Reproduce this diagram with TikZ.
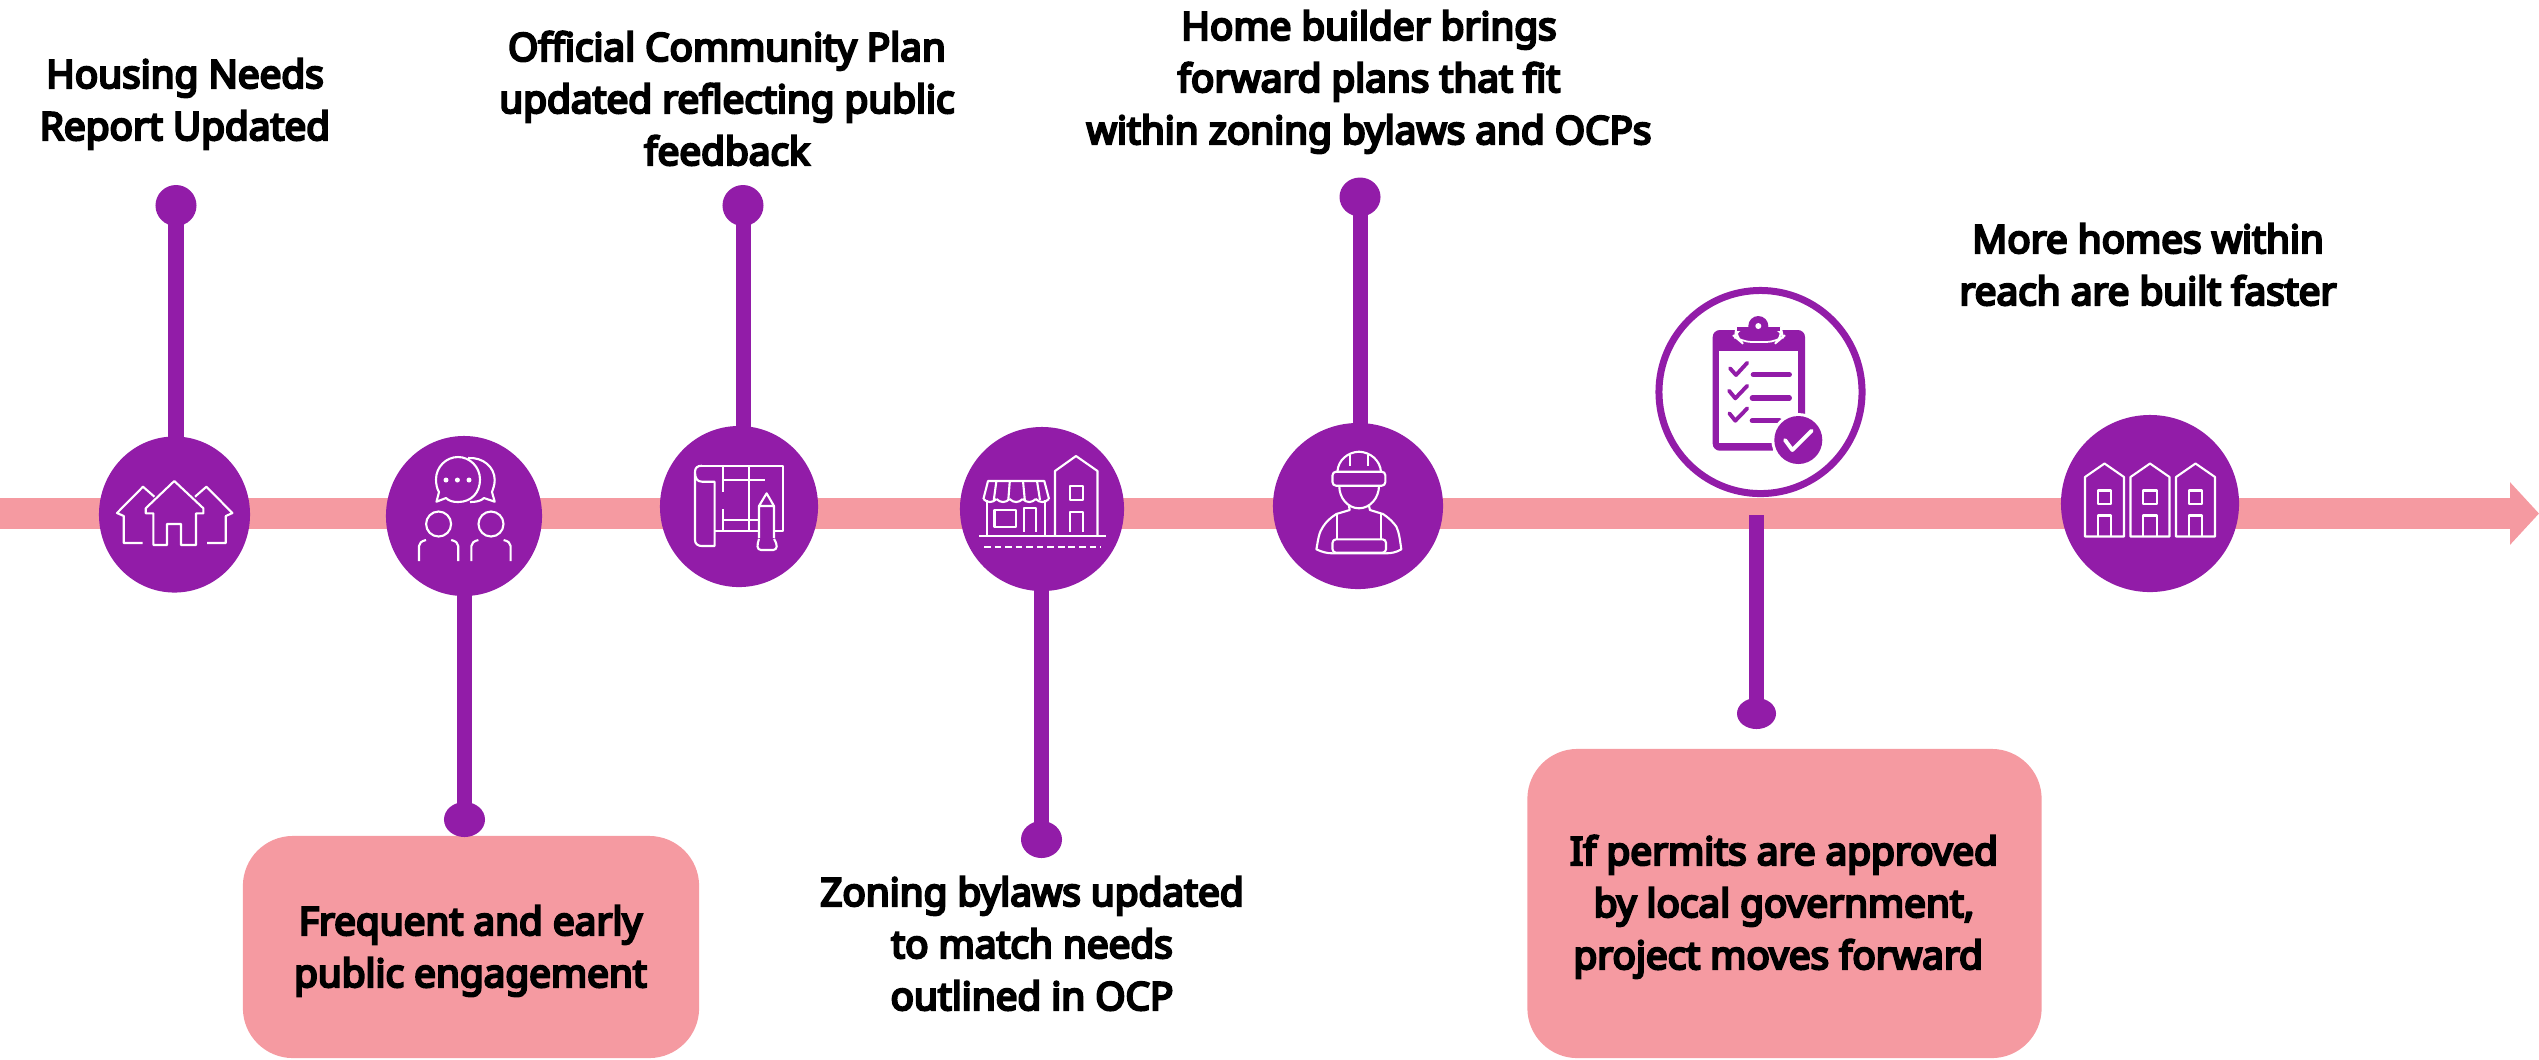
\documentclass[tikz,border=0pt]{standalone}
\usepackage{fontspec}
\setmainfont{Noto Sans}
\newfontfamily\captionfont{Noto Sans}[FakeBold=6]
\usepackage{xcolor}
\usetikzlibrary{arrows.meta,shapes.geometric}
\definecolor{hubpurple}{HTML}{921CA8}
\definecolor{bandpink}{HTML}{F59AA1}
\tikzset{
	band/.style={draw=bandpink, line width=.31cm, -{Triangle[length=.29cm,width=.61cm]}},
	hub/.style={ellipse, fill=hubpurple, inner sep=0pt},
	pin/.style={ellipse, fill=hubpurple, inner sep=0pt},
	stem/.style={draw=hubpurple, line width=.15cm},
	caption/.style={font=\captionfont\fontsize{11}{14.8}\selectfont, align=center, anchor=base, inner sep=0pt},
	notebox/.style={fill=bandpink, rounded corners=.5cm, inner sep=0pt},
	iconline/.style={draw=white, line width=.6pt, line join=round},
	clipline/.style={draw=hubpurple, line width=1.1pt, line cap=round, line join=round}
}
\begin{document}
\begin{tikzpicture}[x=.01cm,y=-.01cm]
	\useasboundingbox (0,0) rectangle (2539,1059);
	\coordinate (bandstart) at (0,513.5);
	\coordinate (bandend) at (2539,513.5);
	\draw[band] (bandstart) -- (bandend);

	\node[notebox, minimum width=4.56cm, minimum height=2.22cm] (engagebox) at (471,947) {};
	\node[notebox, minimum width=5.14cm, minimum height=3.09cm] (permitbox) at (1784.5,903.5) {};

	\node[hub, minimum width=1.51cm, minimum height=1.56cm] (hubhouses) at (174.5,514.5) {};
	\node[hub, minimum width=1.56cm, minimum height=1.60cm] (hubpeople) at (464,516) {};
	\node[hub, minimum width=1.58cm, minimum height=1.61cm] (hubplan) at (739,506.5) {};
	\node[hub, minimum width=1.64cm, minimum height=1.64cm] (hubshop) at (1042,509) {};
	\node[hub, minimum width=1.70cm, minimum height=1.66cm] (hubworker) at (1358,506) {};
	\node[circle, fill=white, draw=hubpurple, line width=.07cm, minimum size=2.03cm, inner sep=0pt] (hubcheck) at (1760.5,392) {};
	\node[hub, minimum width=1.78cm, minimum height=1.77cm] (hubhomes) at (2150,503.5) {};

	\node[pin, minimum width=.41cm, minimum height=.41cm] (pinhouses) at (176,205.5) {};
	\node[pin, minimum width=.41cm, minimum height=.35cm] (pinpeople) at (464.5,819.5) {};
	\node[pin, minimum width=.41cm, minimum height=.41cm] (pinplan) at (743,205.5) {};
	\node[pin, minimum width=.41cm, minimum height=.37cm] (pinshop) at (1041.5,839.5) {};
	\node[pin, minimum width=.41cm, minimum height=.39cm] (pinworker) at (1360,197) {};
	\node[pin, minimum width=.39cm, minimum height=.31cm] (pincheck) at (1756.5,713.5) {};
	\coordinate (stemcheck) at (1756.5,515);

	\draw[stem] (pinhouses.center) -- (pinhouses.center |- hubhouses.center);
	\draw[stem] (pinpeople.center) -- (pinpeople.center |- hubpeople.center);
	\draw[stem] (pinplan.center) -- (pinplan.center |- hubplan.center);
	\draw[stem] (pinshop.center) -- (pinshop.center |- hubshop.center);
	\draw[stem] (pinworker.center) -- (pinworker.center |- hubworker.center);
	\draw[stem] (pincheck.center) -- (stemcheck);

	\node[caption] (housingtext) at (185,140) {Housing Needs\\Report Updated};
	\node[caption] (plantext) at (727,165) {Official Community Plan\\updated reflecting public\\feedback};
	\node[caption] (buildertext) at (1369,144) {Home builder brings\\forward plans that fit\\within zoning bylaws and OCPs};
	\node[caption] (homestext) at (2148,305) {More homes within\\reach are built faster};
	\node[caption] (zoningtext) at (1032,1010) {Zoning bylaws updated\\to match needs\\outlined in OCP};
	\node[caption] (engagetext) at (470.5,987) {Frequent and early\\public engagement};
	\node[caption] (permittext) at (1784,969) {If permits are approved\\by local government,\\project moves forward\hspace*{.3em}};

	\draw[iconline] (153.4,513.3) -- (145.7,513.3) -- (145.7,508.3) -- (174.3,481) -- (203.4,508.3) -- (203.4,513.3) -- (196,513.3) -- (196,545) -- (181,545) -- (181,524) -- (167,524) -- (167,545) -- (153.4,545) -- cycle;
	\draw[iconline] (154.4,496.7) -- (143,486.7) -- (117,513) -- (123.8,516) -- (123.8,543) -- (142.7,543);
	\draw[iconline] (195,496.7) -- (206.4,486.7) -- (232.4,513) -- (225.8,516) -- (225.8,543) -- (207,543);

	\draw[iconline] (436.5,501.7) -- (446,498) .. controls (449,501) and (453,502) .. (458,502) .. controls (472,502) and (480,492) .. (480,479.5) .. controls (480,467) and (470,457) .. (458,457) .. controls (446,457) and (436,467) .. (436,479.5) .. controls (436,484) and (437,489) .. (439,492) -- cycle;
	\draw[iconline] (468,458) .. controls (483,457) and (494.7,467) .. (494.7,480) .. controls (494.7,485) and (493,489) .. (492,492) -- (494.7,501.7) -- (484,498) .. controls (481,501) and (476,502) .. (470,502);
	\foreach \dotx in {446,457.4,469}
		\fill[white] (\dotx,480) circle[radius=2.5];
	\foreach \headx in {438.6,491}
	{
		\draw[iconline] (\headx,524) circle[radius=12.5];
		\draw[iconline] (\headx-12.6,540) .. controls (\headx-17,541) and (\headx-19.6,543) .. (\headx-19.6,546) -- (\headx-19.6,561);
		\draw[iconline] (\headx+12.6,540) .. controls (\headx+17,541) and (\headx+19.6,543) .. (\headx+19.6,546) -- (\headx+19.6,561);
	}

	\draw[iconline] (702,465.7) -- (783,465.7) -- (783,531) -- (774,531) (759,531) -- (714.6,531);
	\draw[iconline] (702,465.7) .. controls (697,465.7) and (695,468) .. (695,472) -- (695,540) .. controls (695,544) and (698,546) .. (702,546) -- (714.6,546) -- (714.6,481.7) -- (702,481.7) .. controls (697,481.7) and (695,478) .. (695,472);
	\draw[iconline] (723.3,465.7) -- (723.3,491.7) (723.3,509.3) -- (723.3,531) (749,465.7) -- (749,531);
	\draw[iconline] (723.3,480) -- (765,480) (723.3,520) -- (759,520);
	\draw[iconline] (759,538) -- (759,506) -- (766.6,493.3) -- (774,506) -- (774,538) (759,506) -- (774,506);
	\draw[iconline, rounded corners=1pt] (759,539) -- (757.5,543) -- (757.5,550) -- (776.7,550) -- (776.7,543) -- (774,539);

	\draw[iconline] (979,536) -- (1106,536);
	\draw[iconline, dash pattern=on 1.9pt off 1.1pt] (984,546.7) -- (1101,546.7);
	\draw[iconline] (983.4,499) -- (988,481) -- (1044.3,481) -- (1049,499);
	\foreach \i in {0,...,4}
		\draw[iconline] (983.4+\i*13.1,499) .. controls (987.4+\i*13.1,503) and (992.4+\i*13.1,503) .. (996.5+\i*13.1,499);
	\draw[iconline] (996.4,481) -- (993.8,500) (1009.8,481) -- (1008.3,500) (1023,481) -- (1024.8,500) (1037,481) -- (1040,500);
	\draw[iconline] (987.3,500) -- (987.3,536) (1045.4,500) -- (1045.4,536);
	\draw[iconline] (994.5,510) rectangle (1016,527);
	\draw[iconline] (1024,531.7) -- (1024,508) -- (1035.9,508) -- (1035.9,531.7);
	\draw[iconline] (1055,536) -- (1055,471) -- (1076,456) -- (1097.5,471) -- (1097.5,536);
	\draw[iconline] (1070.3,486) rectangle (1083,500);
	\draw[iconline] (1070.3,531.7) -- (1070.3,512.3) -- (1083,512.3) -- (1083,531.7);

	\draw[iconline] (1337.4,471.7) .. controls (1338,460) and (1348,452) .. (1359,451.7) .. controls (1370,452) and (1380,460) .. (1381,471.7);
	\draw[iconline, rounded corners=1pt] (1332.5,471.7) rectangle (1385.3,485.7);
	\draw[iconline] (1350.4,455) -- (1350.4,466) (1367.7,455) -- (1367.7,466);
	\draw[iconline] (1339.3,485.7) .. controls (1339,498) and (1348,508.3) .. (1359,508.3) .. controls (1370,508.3) and (1379,498) .. (1379,485.7);
	\draw[iconline] (1349,506) -- (1349.7,510) -- (1336.3,514) .. controls (1330,518) and (1326,522) .. (1323,526.7) .. controls (1319,532) and (1318,540) .. (1316.4,549.3) .. controls (1322,552) and (1327,553.3) .. (1332.5,553.3) -- (1386,553.3) .. controls (1392,553.3) and (1397,552) .. (1401.3,549.3) .. controls (1400,540) and (1399,532) .. (1396.4,526.7) .. controls (1393,522) and (1389,518) .. (1383,514) -- (1370,510) -- (1369,506);
	\draw[iconline] (1337.4,514) -- (1337.4,539.3) (1381,514) -- (1381,539.3);
	\draw[iconline, rounded corners=1pt] (1332.5,539.3) rectangle (1386,552.7);

	\fill[hubpurple, rounded corners=2pt] (1712.7,330) rectangle (1805,450.7);
	\fill[white] (1719.3,351) rectangle (1798.3,443.3);
	\fill[white] (1798.3,415) rectangle (1806,451);
	\fill[white] (1772.7,443) rectangle (1806,451);
	\draw[draw=white, fill=hubpurple, line width=.5pt, rounded corners=3pt] (1736,328) -- (1781,328) -- (1783,337) -- (1777,342) -- (1741,342) -- (1735,337) -- cycle;
	\fill[hubpurple] (1758.3,326) circle[radius=10];
	\fill[hubpurple] (1737,326.5) rectangle (1780,331);
	\fill[white] (1758.3,326) circle[radius=3];
	\draw[clipline] (1730,368.3) -- (1736,375) -- (1747.3,362.7);
	\draw[clipline] (1729,390.7) -- (1735.3,398.3) -- (1747.3,385.7);
	\draw[clipline] (1729.3,413.3) -- (1735.3,420.7) -- (1747.3,408.3);
	\draw[clipline, line width=1.5pt] (1753.3,374.7) -- (1789.3,374.7);
	\draw[clipline, line width=1.5pt] (1752.3,398) -- (1789.3,398);
	\draw[clipline, line width=1.5pt] (1752.3,420.7) -- (1779.3,420.7);
	\fill[white] (1798.3,440) circle[radius=27];
	\fill[hubpurple] (1798.3,440) circle[radius=24];
	\draw[draw=white, line width=1.1pt, line cap=round, line join=round] (1785,440) -- (1792.3,450) -- (1811.7,430.7);

	\foreach \housex in {2104.5,2150,2195.5}
	{
		\draw[iconline] (\housex-19.5,536.5) -- (\housex-19.5,477) -- (\housex,463.5) -- (\housex+19.5,477) -- (\housex+19.5,536.5) -- cycle;
		\draw[iconline] (\housex-6.7,490.5) rectangle (\housex+6.7,504);
		\draw[iconline] (\housex-6.7,536.5) -- (\housex-6.7,515.5) -- (\housex+6.7,515.5) -- (\housex+6.7,536.5);
	}
\end{tikzpicture}
\end{document}
